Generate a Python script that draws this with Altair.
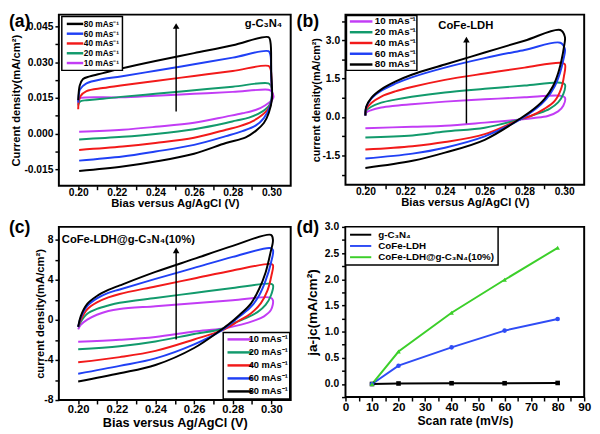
import altair as alt
import pandas as pd

FONT = "Liberation Sans"
RATE_LABELS = ["10 mAs⁻¹", "20 mAs⁻¹", "40 mAs⁻¹", "60 mAs⁻¹", "80 mAs⁻¹"]
RATE_COLORS = ["#c23cf5", "#129a6c", "#f21a1a", "#2040f5", "#000000"]

# ---------- (a) g-C3N4 : CV loops (forward branch, then reverse branch) ----------
A10_X = [0.2000, 0.2006, 0.2015, 0.2220, 0.2400, 0.2600, 0.2800, 0.2985, 0.3000, 0.3010, 0.2969, 0.2918, 0.2850, 0.2765, 0.2600, 0.2400, 0.2230, 0.2005]
A10_Y = [0.0125, 0.0145, 0.0150, 0.0152, 0.0159, 0.0167, 0.0175, 0.0184, 0.0178, 0.0150, 0.0119, 0.0099, 0.0085, 0.0071, 0.0045, 0.0028, 0.0016, 0.0007]
A20_X = [0.2000, 0.2005, 0.2017, 0.2043, 0.2128, 0.2220, 0.2400, 0.2600, 0.2800, 0.2985, 0.2998, 0.3003, 0.2990, 0.2952, 0.2884, 0.2816, 0.2765, 0.2600, 0.2400, 0.2230, 0.2005]
A20_Y = [0.0118, 0.0130, 0.0137, 0.0140, 0.0146, 0.0154, 0.0167, 0.0182, 0.0197, 0.0211, 0.0200, 0.0160, 0.0120, 0.0092, 0.0067, 0.0054, 0.0044, 0.0018, -0.0002, -0.0014, -0.0025]
A40_X = [0.2000, 0.2003, 0.2012, 0.2043, 0.2128, 0.2220, 0.2400, 0.2600, 0.2800, 0.2985, 0.2996, 0.3001, 0.3003, 0.2985, 0.2952, 0.2901, 0.2833, 0.2765, 0.2600, 0.2400, 0.2230, 0.2005]
A40_Y = [0.0102, 0.0135, 0.0157, 0.0178, 0.0191, 0.0202, 0.0221, 0.0242, 0.0263, 0.0284, 0.0270, 0.0200, 0.0145, 0.0105, 0.0078, 0.0051, 0.0030, 0.0016, -0.0018, -0.0040, -0.0055, -0.0069]
A60_X = [0.2000, 0.2003, 0.2009, 0.2043, 0.2128, 0.2220, 0.2400, 0.2600, 0.2800, 0.2985, 0.2995, 0.2999, 0.3002, 0.2995, 0.2961, 0.2918, 0.2850, 0.2765, 0.2600, 0.2400, 0.2230, 0.2005]
A60_Y = [0.0130, 0.0160, 0.0185, 0.0211, 0.0229, 0.0240, 0.0264, 0.0291, 0.0319, 0.0346, 0.0330, 0.0240, 0.0150, 0.0119, 0.0065, 0.0033, 0.0010, -0.0011, -0.0048, -0.0076, -0.0097, -0.0114]
A80_X = [0.2000, 0.2003, 0.2008, 0.2025, 0.2060, 0.2128, 0.2220, 0.2400, 0.2600, 0.2800, 0.2985, 0.2995, 0.2999, 0.3003, 0.2986, 0.2961, 0.2918, 0.2867, 0.2765, 0.2600, 0.2400, 0.2230, 0.2005]
A80_Y = [0.0140, 0.0175, 0.0202, 0.0229, 0.0240, 0.0254, 0.0273, 0.0305, 0.0338, 0.0371, 0.0405, 0.0385, 0.0260, 0.0145, 0.0085, 0.0044, 0.0010, -0.0016, -0.0040, -0.0085, -0.0118, -0.0139, -0.0158]

# ---------- (b) CoFe-LDH ----------
B10_X = [0.2000, 0.2004, 0.2030, 0.2080, 0.2150, 0.2233, 0.2400, 0.2600, 0.2800, 0.2980, 0.3003, 0.2995, 0.2969, 0.2917, 0.2848, 0.2779, 0.2600, 0.2400, 0.2237, 0.2000]
B10_Y = [0.06, 0.17, 0.27, 0.37, 0.44, 0.50, 0.60, 0.69, 0.77, 0.83, 0.76, 0.44, 0.22, 0.04, -0.04, -0.10, -0.22, -0.34, -0.38, -0.44]
B20_X = [0.2000, 0.2004, 0.2030, 0.2080, 0.2150, 0.2233, 0.2400, 0.2600, 0.2800, 0.2980, 0.3003, 0.2995, 0.2969, 0.2926, 0.2866, 0.2779, 0.2600, 0.2400, 0.2237, 0.2000]
B20_Y = [0.06, 0.24, 0.40, 0.56, 0.68, 0.79, 0.96, 1.10, 1.23, 1.34, 1.27, 0.89, 0.57, 0.32, 0.13, -0.09, -0.42, -0.57, -0.72, -0.80]
B40_X = [0.2000, 0.2004, 0.2030, 0.2080, 0.2150, 0.2233, 0.2400, 0.2600, 0.2800, 0.2980, 0.3003, 0.2998, 0.2983, 0.2952, 0.2900, 0.2831, 0.2779, 0.2600, 0.2400, 0.2237, 0.2000]
B40_Y = [0.06, 0.30, 0.55, 0.80, 1.00, 1.17, 1.45, 1.70, 1.93, 2.12, 2.06, 1.58, 1.08, 0.63, 0.32, 0.04, -0.09, -0.67, -0.98, -1.14, -1.27]
B60_X = [0.2000, 0.2004, 0.2030, 0.2080, 0.2150, 0.2233, 0.2400, 0.2600, 0.2800, 0.2980, 0.3003, 0.2995, 0.2978, 0.2952, 0.2909, 0.2857, 0.2779, 0.2600, 0.2400, 0.2237, 0.2000]
B60_Y = [0.06, 0.38, 0.72, 1.03, 1.30, 1.55, 1.93, 2.30, 2.62, 2.90, 2.66, 2.22, 1.71, 1.20, 0.70, 0.32, -0.09, -0.76, -1.20, -1.43, -1.62]
B80_X = [0.2000, 0.2004, 0.2030, 0.2080, 0.2150, 0.2233, 0.2400, 0.2600, 0.2800, 0.2980, 0.3003, 0.2998, 0.2986, 0.2969, 0.2943, 0.2900, 0.2848, 0.2779, 0.2600, 0.2400, 0.2237, 0.2000]
B80_Y = [0.06, 0.40, 0.75, 1.08, 1.38, 1.65, 2.05, 2.52, 2.98, 3.40, 3.13, 2.72, 2.22, 1.71, 1.20, 0.70, 0.32, -0.06, -0.89, -1.39, -1.71, -1.99]

# ---------- (c) CoFe-LDH@g-C3N4(10%) ----------
C10_X = [0.2000, 0.2013, 0.2047, 0.2097, 0.2156, 0.2215, 0.2400, 0.2600, 0.2800, 0.2995, 0.3008, 0.2998, 0.2962, 0.2911, 0.2844, 0.2743, 0.2600, 0.2400, 0.2215, 0.2000]
C10_Y = [-0.94, -0.50, 0.03, 0.52, 0.90, 1.10, 1.38, 1.68, 1.97, 2.24, 1.98, 1.01, 0.36, -0.07, -0.46, -0.88, -1.15, -1.70, -1.98, -2.18]
C20_X = [0.2000, 0.2013, 0.2047, 0.2097, 0.2156, 0.2215, 0.2400, 0.2600, 0.2800, 0.2995, 0.3008, 0.2998, 0.2970, 0.2928, 0.2861, 0.2794, 0.2743, 0.2600, 0.2400, 0.2215, 0.2000]
C20_Y = [-0.72, -0.20, 0.62, 1.10, 1.45, 1.72, 2.20, 2.70, 3.20, 3.62, 3.50, 2.47, 1.50, 0.78, 0.13, -0.39, -0.90, -1.40, -2.15, -2.63, -2.93]
C40_X = [0.2000, 0.2013, 0.2047, 0.2097, 0.2156, 0.2215, 0.2400, 0.2600, 0.2800, 0.2995, 0.3008, 0.3000, 0.2980, 0.2945, 0.2895, 0.2828, 0.2743, 0.2600, 0.2400, 0.2215, 0.2000]
C40_Y = [-0.70, 0.00, 1.07, 1.75, 2.25, 2.60, 3.35, 4.15, 4.95, 5.60, 5.50, 4.42, 2.96, 1.66, 0.68, -0.13, -1.04, -1.95, -3.09, -3.71, -4.23]
C60_X = [0.2000, 0.2013, 0.2047, 0.2097, 0.2156, 0.2215, 0.2400, 0.2600, 0.2800, 0.2992, 0.3008, 0.2998, 0.2970, 0.2937, 0.2895, 0.2836, 0.2743, 0.2600, 0.2400, 0.2215, 0.2000]
C60_Y = [-0.70, 0.20, 1.40, 2.15, 2.70, 3.05, 4.10, 5.20, 6.30, 7.19, 7.00, 5.72, 3.93, 2.47, 1.33, 0.36, -1.04, -2.44, -3.84, -4.59, -5.37]
C80_X = [0.2000, 0.2013, 0.2047, 0.2097, 0.2156, 0.2215, 0.2400, 0.2600, 0.2800, 0.2998, 0.3008, 0.2995, 0.2970, 0.2937, 0.2895, 0.2836, 0.2777, 0.2743, 0.2600, 0.2400, 0.2215, 0.2000]
C80_Y = [-0.68, 0.36, 1.60, 2.40, 3.00, 3.45, 4.80, 6.10, 7.40, 8.50, 8.00, 6.70, 4.75, 3.12, 1.66, 0.52, -0.46, -0.94, -2.80, -4.50, -5.33, -6.15]

# ---------- (d) ja-jc vs scan rate ----------
D_SERIES = ["g-C₃N₄", "CoFe-LDH", "CoFe-LDH@g-C₃N₄(10%)"]
D_COLORS = ["#000000", "#2f4cf5", "#3ccf2a"]
D_SHAPES = ["square", "circle", "triangle-up"]
SCAN_RATE = [10, 20, 40, 60, 80]
D_GCN = [0.0, 0.01, 0.015, 0.015, 0.02]
D_LDH = [0.0, 0.35, 0.70, 1.02, 1.24]
D_COMP = [0.0, 0.62, 1.36, 1.99, 2.60]

# ---------- axes / annotations ----------
X_DOM = [0.19, 0.31]
X_TICKS = [0.20, 0.21, 0.22, 0.23, 0.24, 0.25, 0.26, 0.27, 0.28, 0.29, 0.30]
A_YDOM = [-0.022, 0.050]
A_YTICKS = [-0.0225, -0.015, -0.0075, 0.0, 0.0075, 0.015, 0.0225, 0.03, 0.0375, 0.045]
B_YDOM = [-2.65, 4.0]
B_YTICKS = [-2.25, -1.5, -0.75, 0.0, 0.75, 1.5, 2.25, 3.0, 3.75]
C_YDOM = [-8.0, 9.3]
C_YTICKS = [-8, -6, -4, -2, 0, 2, 4, 6, 8]
D_XDOM = [0, 90]
D_XTICKS = [0, 5, 10, 15, 20, 25, 30, 35, 40, 45, 50, 55, 60, 65, 70, 75, 80, 85, 90]
D_YDOM = [-0.25, 3.0]
D_YTICKS = [-0.25, 0.0, 0.25, 0.5, 0.75, 1.0, 1.25, 1.5, 1.75, 2.0, 2.25, 2.5, 2.75, 3.0]

# arrow: x, start y, end y (shaft), head centre y
ARROW_A = [0.2507, 0.0092, 0.0452, 0.0452]
ARROW_B = [0.2508, -0.25, 3.02, 3.02]
ARROW_C = [0.2507, -1.95, 6.95, 6.95]
NOTE_A = ["g-C₃N₄", 0.2959, 0.0461]
NOTE_B = ["CoFe-LDH", 0.2505, 3.57]
NOTE_C = ["CoFe-LDH@g-C₃N₄(10%)", 0.1915, 7.95]
PANEL_TAGS = ["(a)", "(b)", "(c)", "(d)"]


def label_expr(step, fmt):
    return (f"abs(datum.value/{step} - round(datum.value/{step})) < 0.001 ? "
            f"replace(format(datum.value, '{fmt}'), '\u2212', '-') : ''")


def make_axis(title, values, expr, extent, title_pad, label_pad, title_size=11.5, label_size=10.5):
    return alt.Axis(title=title, values=values, labelExpr=expr, minExtent=extent, maxExtent=extent,
                    titlePadding=title_pad, labelPadding=label_pad, tickSize=4, tickWidth=1.5,
                    tickColor="black", domain=False, grid=False, labelOverlap=False, labelFlush=False,
                    labelFont=FONT, labelFontSize=label_size, labelFontWeight="bold", labelColor="black",
                    titleFont=FONT, titleFontSize=title_size, titleFontWeight="bold", titleColor="black")


def loop_frame(xs_list, ys_list):
    rows = []
    for lab, xs, ys in zip(RATE_LABELS, xs_list, ys_list):
        for i, (x, y) in enumerate(zip(xs, ys)):
            rows.append({"rate": lab, "v": x, "j": y, "i": i})
    return pd.DataFrame(rows)


def tag_layer(tag, dx, dy):
    return alt.Chart(pd.DataFrame({"t": [tag]})).mark_text(
        font=FONT, fontWeight="bold", fontSize=18, align="left", baseline="top", color="black"
    ).encode(text="t:N", x=alt.value(dx), y=alt.value(dy))


def cv_panel(xs_list, ys_list, order, ydom, yticks, ystep, yfmt, yaxis_args, xaxis_args,
             w, h, leg, arrow, note, note_align, tag, tag_dx, tag_dy):
    df = loop_frame(xs_list, ys_list)
    xsc = alt.Scale(domain=X_DOM, nice=False, zero=False)
    ysc = alt.Scale(domain=ydom, nice=False, zero=False)
    xax = make_axis("Bias versus Ag/AgCl (V)", X_TICKS, label_expr(0.02, ".2f"), **xaxis_args)
    yax = make_axis(values=yticks, expr=label_expr(ystep, yfmt), **yaxis_args)
    cscale = alt.Scale(domain=order, range=[RATE_COLORS[RATE_LABELS.index(o)] for o in order])
    lines = alt.Chart(df).mark_line(strokeWidth=2, interpolate="catmull-rom").encode(
        x=alt.X("v:Q", scale=xsc, axis=xax),
        y=alt.Y("j:Q", scale=ysc, axis=yax),
        color=alt.Color("rate:N", scale=cscale, legend=alt.Legend(**leg)),
        order="i:Q",
        detail="rate:N",
    )
    adf = pd.DataFrame({"v": [arrow[0]], "j": [arrow[1]], "j2": [arrow[2]], "jh": [arrow[3]]})
    shaft = alt.Chart(adf).mark_rule(strokeWidth=1.5, color="black").encode(
        x=alt.X("v:Q", scale=xsc, axis=xax), y=alt.Y("j:Q", scale=ysc, axis=yax), y2="j2:Q")
    head = alt.Chart(adf).mark_point(shape="triangle-up", filled=True, size=45, color="black", opacity=1).encode(
        x=alt.X("v:Q", scale=xsc, axis=xax), y=alt.Y("jh:Q", scale=ysc, axis=yax))
    ndf = pd.DataFrame({"t": [note[0]], "v": [note[1]], "j": [note[2]]})
    txt = alt.Chart(ndf).mark_text(font=FONT, fontWeight="bold", fontSize=11.5, align=note_align,
                                   baseline="middle", color="black").encode(
        x=alt.X("v:Q", scale=xsc, axis=xax), y=alt.Y("j:Q", scale=ysc, axis=yax), text="t:N")
    return alt.layer(lines, shaft, head, txt, tag_layer(tag, tag_dx, tag_dy)).properties(width=w, height=h)


def legend_kw(**kw):
    base = dict(title=None, symbolStrokeWidth=2.5, symbolSize=49, labelFont=FONT, labelFontSize=9,
                labelFontWeight="bold", labelColor="black", strokeColor="black", fillColor="white",
                padding=3, cornerRadius=0, labelOffset=4)
    base.update(kw)
    return base


pa = cv_panel([A10_X, A20_X, A40_X, A60_X, A80_X], [A10_Y, A20_Y, A40_Y, A60_Y, A80_Y],
              RATE_LABELS[::-1], A_YDOM, A_YTICKS, 0.015, ".3f",
              dict(title="Current density(mA/cm²)", extent=32, title_pad=6, label_pad=2),
              dict(extent=12.5, title_pad=0, label_pad=-2),
              237, 175,
              legend_kw(orient="none", legendX=3, legendY=2, symbolType="M-2.4,0L2.4,0", rowPadding=-1.5,
                        symbolOffset=6, labelFontSize=8.5, padding=2.5),
              ARROW_A, NOTE_A, "center", PANEL_TAGS[0], -51, -1)

pb = cv_panel([B10_X, B20_X, B40_X, B60_X, B80_X], [B10_Y, B20_Y, B40_Y, B60_Y, B80_Y],
              RATE_LABELS, B_YDOM, B_YTICKS, 1.5, ".1f",
              dict(title="current density(mA/cm²)", extent=23, title_pad=2, label_pad=2, title_size=11),
              dict(extent=12.5, title_pad=0, label_pad=-2),
              244, 174,
              legend_kw(orient="none", legendX=1, legendY=1, symbolType="M-3.3,0L3.3,0", rowPadding=1,
                        symbolOffset=9, labelOffset=9, labelFontSize=10, padding=1),
              ARROW_B, NOTE_B, "center", PANEL_TAGS[1], -50, -1)

pc = cv_panel([C10_X, C20_X, C40_X, C60_X, C80_X], [C10_Y, C20_Y, C40_Y, C60_Y, C80_Y],
              RATE_LABELS, C_YDOM, C_YTICKS, 4, "d",
              dict(title="current density(mA/cm²)", extent=12, title_pad=2, label_pad=2, title_size=11.5),
              dict(extent=17.5, title_pad=0, label_pad=0, title_size=13, label_size=11.5),
              237, 177,
              legend_kw(orient="bottom-right", offset=1, symbolType="M-3.6,0L3.6,0", rowPadding=3.3,
                        symbolOffset=10, labelFontSize=9.5, padding=2),
              ARROW_C, NOTE_C, "left", PANEL_TAGS[2], -51, -8)

# ---------- panel (d) ----------
d_rows = []
for name, vals in zip(D_SERIES, [D_GCN, D_LDH, D_COMP]):
    for r, val in zip(SCAN_RATE, vals):
        d_rows.append({"s": name, "rate": r, "val": val})
d_df = pd.DataFrame(d_rows)
dx_sc = alt.Scale(domain=D_XDOM, nice=False, zero=False)
dy_sc = alt.Scale(domain=D_YDOM, nice=False, zero=False)
dxax = make_axis("Scan rate (mV/s)", D_XTICKS, label_expr(10, "d"), 18.5, 0, 0.5, title_size=12.5, label_size=12)
dyax = make_axis("ja-jc(mA/cm²)", D_YTICKS, label_expr(0.5, ".1f"), 21, 6, 3, title_size=14)

d_leg = legend_kw(orient="none", legendX=0, legendY=0, symbolType="M-3.1,0L3.1,0", symbolSize=49,
                  symbolStrokeWidth=2, rowPadding=1.5, symbolOffset=7.5, labelOffset=13, labelFontSize=10)
d_lines = alt.Chart(d_df).mark_line(strokeWidth=2).encode(
    x=alt.X("rate:Q", scale=dx_sc, axis=dxax),
    y=alt.Y("val:Q", scale=dy_sc, axis=dyax),
    color=alt.Color("s:N", scale=alt.Scale(domain=D_SERIES, range=D_COLORS), legend=alt.Legend(**d_leg)),
)
d_layers = [d_lines]
for name, col, shp in zip(D_SERIES, D_COLORS, D_SHAPES):
    d_layers.append(
        alt.Chart(d_df[d_df["s"] == name]).mark_point(shape=shp, filled=True, size=22, opacity=1, color=col).encode(
            x=alt.X("rate:Q", scale=dx_sc, axis=dxax),
            y=alt.Y("val:Q", scale=dy_sc, axis=dyax),
        )
    )
d_layers.append(tag_layer(PANEL_TAGS[3], -50, -8))
pd_ = alt.layer(*d_layers).properties(width=244, height=174)

chart = alt.concat(
    pa, pb, pc, pd_, columns=2, spacing={"row": 40, "column": 49}, bounds="flush", align="all"
).resolve_scale(
    color="independent"
).properties(
    padding=0, background="white"
).configure_view(
    stroke="black", strokeWidth=2
).configure_legend(
    strokeWidth=1.5
)

chart.save("out.html", embed_options={"renderer": "svg", "actions": False})
